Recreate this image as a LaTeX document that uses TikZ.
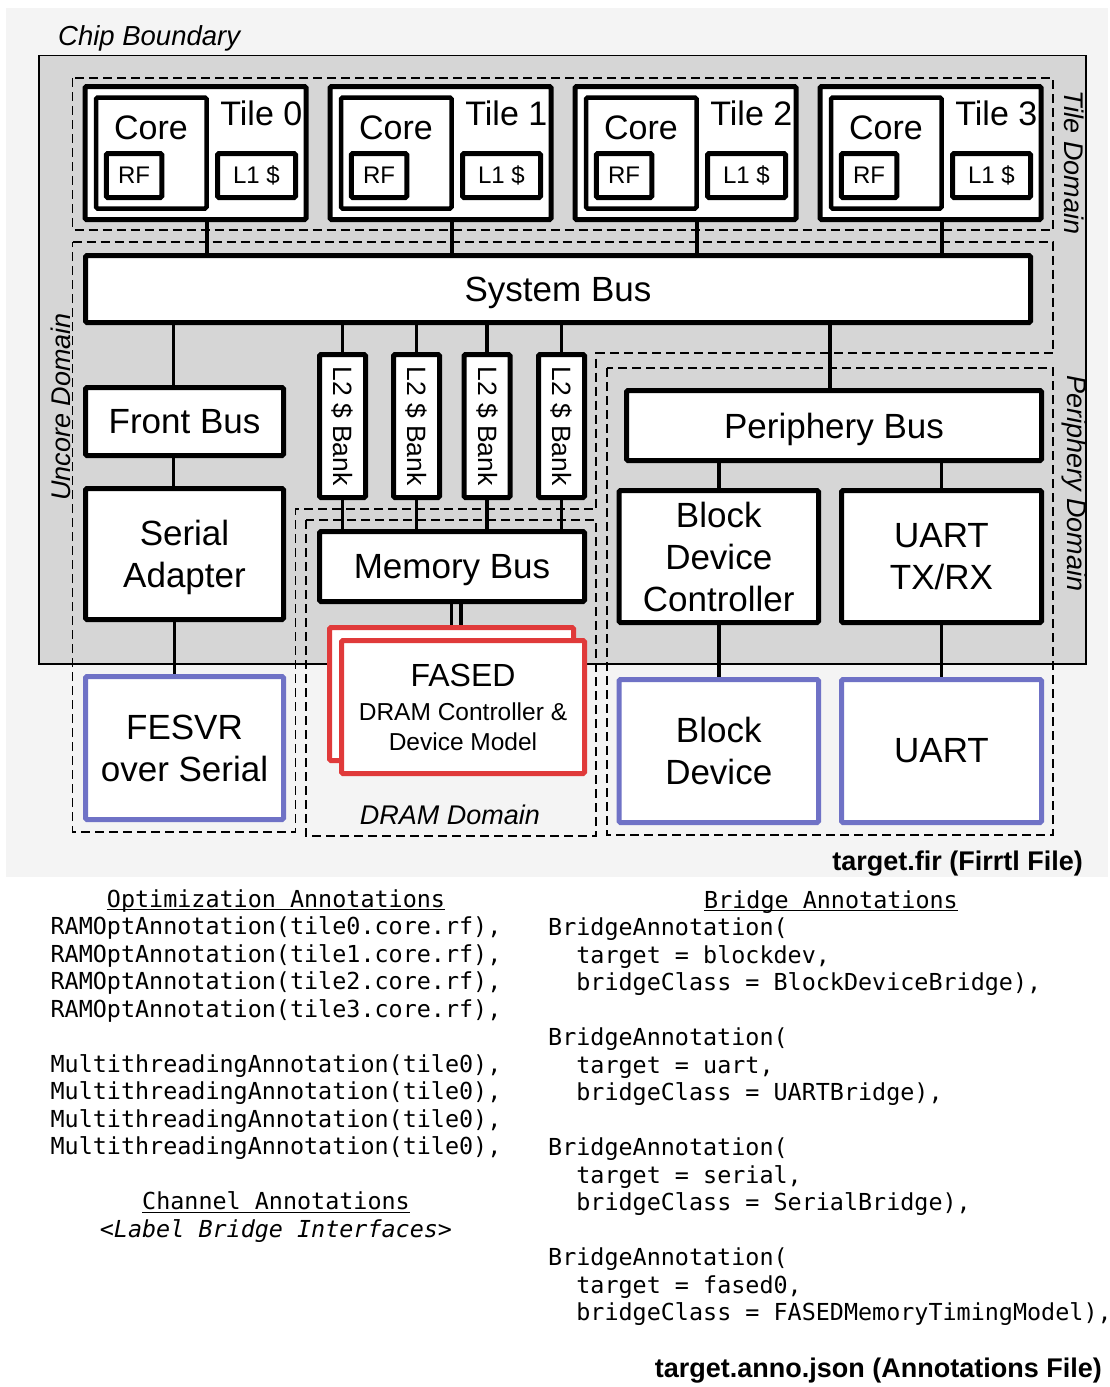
\documentclass[tikz,border=0pt]{standalone}
\usepackage{fontspec}
\setmainfont{Liberation Sans}
\newfontfamily\codefont{DejaVu Sans Mono}
\usetikzlibrary{calc}
\definecolor{pagebg}{HTML}{F4F4F4}
\definecolor{chipfill}{HTML}{D6D6D6}
\definecolor{bridgeblue}{HTML}{6F72C6}
\definecolor{fasedred}{HTML}{E03A3A}
\newcommand\fsz[2]{\fontsize{#1}{#2}\selectfont}
% heading with a flat underline crossing the descenders
\newcommand\ulhead[1]{\setbox0\hbox{#1}\rlap{\rule[-3.4pt]{\wd0}{1.4pt}}\box0}
\newcommand\ind{\phantom{xx}}
\pgfdeclarelayer{back}
\pgfdeclarelayer{wires}
\pgfsetlayers{back,wires,main}

\begin{document}
\begin{tikzpicture}[x=1pt,y=-1pt,
  blk/.style={draw=black, line width=5pt, fill=white, rounded corners=1.5pt,
    inner sep=0pt, align=center, font=\fsz{35}{42}},
  flat/.style={text depth=0pt},
  small/.style={font=\fsz{24}{28}},
  bridge/.style={blk, draw=bridgeblue},
  fased/.style={blk, draw=fasedred, font=\fsz{24.5}{30}},
  wire/.style={line width=3.5pt},
  domainline/.style={line width=1.6pt, dash pattern=on 9pt off 5pt},
  dlbl/.style={inner sep=0pt, font=\itshape\fsz{27}{32}},
  lbl/.style={inner sep=0pt, font=\fsz{34}{40}},
  caption/.style={inner sep=0pt, font=\bfseries\fsz{27}{32}},
  code/.style={inner sep=0pt, font=\codefont\fsz{23.4}{27.5}}
]
\useasboundingbox (0,0) rectangle (1110,1387);

% ---------- tiles ----------
\foreach \k in {0,1,2,3}{
  \pgfmathsetmacro\cx{195.5+245*\k}
  \node[blk, minimum width=221pt, minimum height=133pt] (tile\k) at (\cx,153) {};
  \node[blk, line width=4.5pt, minimum width=110.5pt, minimum height=111pt] (core\k) at (\cx-44.2,153) {};
  \node[blk, small, minimum width=55.5pt, minimum height=44pt] (rf\k) at (\cx-61.5,175.5) {RF};
  \node[blk, small, minimum width=78pt, minimum height=44pt] (lone\k) at (\cx+61,175.5) {L1 \$};
  \node[lbl, anchor=base] (corelbl\k) at (\cx-44.5,139) {Core};
  \node[lbl, anchor=base east] (tilelbl\k) at (\cx+107,125) {Tile \k};
}

% ---------- uncore ----------
\node[blk, flat, minimum width=945pt, minimum height=67pt] (sysbus) at (558,289) {System Bus};
\node[blk, minimum width=198pt, minimum height=68pt] (frontbus) at (184.5,421.5) {Front Bus};
\node[blk, minimum width=198pt, minimum height=131pt] (serial) at (184.5,554) {Serial\\\smash{Adapter}};
\foreach \x [count=\i] in {342.5,416.5,487,561.5}{
  \node[blk, rotate=-90, minimum width=143pt, minimum height=46pt, font=\fsz{26.5}{30}] (bank\i) at (\x,426) {L2 \$ Bank};
}
\node[blk, flat, minimum width=265pt, minimum height=70pt] (membus) at (452,566.5) {Memory Bus};

% ---------- periphery ----------
\node[blk, flat, minimum width=415pt, minimum height=70pt] (pbus) at (834,425.5) {Periphery Bus};
\node[blk, minimum width=199.5pt, minimum height=132pt] (bdc) at (718.75,556.5) {Block\\Device\\Controller};
\node[blk, minimum width=200pt, minimum height=132pt] (uarttx) at (941.5,556.5) {UART\\TX/RX};

% ---------- off-chip models ----------
\node[bridge, minimum width=198pt, minimum height=143pt] (fesvr) at (184.5,748) {FESVR\\over Serial};
\node[fased, minimum width=244pt, minimum height=133pt] (fasedB) at (451.5,694) {};
\node[fased, minimum width=243pt, minimum height=133pt] (fasedF) at (463,707)
  {{\fsz{32}{33}FASED}\\[4pt]DRAM Controller \&\\Device Model};
\node[bridge, minimum width=199.5pt, minimum height=143pt] (blkdev) at (718.75,751) {Block\\Device};
\node[bridge, minimum width=200pt, minimum height=143pt] (uart) at (941.5,751) {UART};

% ---------- connections ----------
\begin{pgfonlayer}{wires}
  \foreach \k in {0,1,2,3}{
    \draw[wire] ([xshift=11.5pt]tile\k.south) -- ([xshift=11.5pt]tile\k.south |- sysbus.north);
  }
  \draw[wire] ([xshift=-11pt]frontbus.north) -- ([xshift=-11pt]frontbus.north |- sysbus.south);
  \draw[wire] ([xshift=-11pt]frontbus.south) -- ([xshift=-11pt]serial.north);
  \draw[wire] ([xshift=-10pt]serial.south) -- ([xshift=-10pt]fesvr.north);
  \foreach \i in {1,2,3,4}{
    \draw[wire] (bank\i.west) -- (bank\i.west |- sysbus.south);
    \draw[wire] (bank\i.east) -- (bank\i.east |- membus.north);
  }
  \draw[wire] (fasedB.north) -- (fasedB.north |- membus.south);
  \draw[wire] ([xshift=-2pt]fasedF.north) -- ([xshift=-2pt]fasedF.north |- membus.south);
  \draw[wire] ([xshift=-4pt]pbus.north) -- ([xshift=-4pt]pbus.north |- sysbus.south);
  \draw[wire] (bdc.north) -- (bdc.north |- pbus.south);
  \draw[wire] (uarttx.north) -- (uarttx.north |- pbus.south);
  \draw[wire] (bdc.south) -- (blkdev.north);
  \draw[wire] (uarttx.south) -- (uart.north);
\end{pgfonlayer}

% ---------- chip outline and clock/power domains ----------
\begin{pgfonlayer}{back}
  \fill[pagebg] (6,8) rectangle (1108,877);
  \draw[fill=chipfill, line width=1.5pt] (39,55.5) rectangle (1086,664);
  \draw[domainline] (72.5,78) rectangle (1053,230);
  \draw[domainline] (72.5,242) -- (1053,242) -- (1053,353) -- (596,353) -- (596,509)
    -- (295.5,509) -- (295.5,832) -- (72.5,832) -- cycle;
  \draw[domainline] (306,520) rectangle (596,836);
  \draw[domainline] (607,368) rectangle (1053,835);
\end{pgfonlayer}

\node[dlbl, font=\itshape\fsz{27.5}{32}, anchor=base west] (chiplbl) at (58,45) {Chip Boundary};
\node[dlbl, rotate=-90, anchor=base] (tiledom) at (1064,162.5) {Tile Domain};
\node[dlbl, rotate=90, anchor=base] (uncoredom) at (70.5,407) {Uncore Domain};
\node[dlbl, rotate=-90, anchor=base] (periphdom) at (1067,483.5) {Periphery Domain};
\node[dlbl, anchor=base] (dramdom) at (450,824) {DRAM Domain};
\node[caption, anchor=base east] (firfile) at (1083,870) {target.fir (Firrtl File)};

% ---------- annotation listings ----------
\node[code, align=center, anchor=base] (optnotes) at (276,1237) {%
  \ulhead{Optimization Annotations}\\
  RAMOptAnnotation(tile0.core.rf),\\
  RAMOptAnnotation(tile1.core.rf),\\
  RAMOptAnnotation(tile2.core.rf),\\
  RAMOptAnnotation(tile3.core.rf),\\[27.5pt]
  MultithreadingAnnotation(tile0),\\
  MultithreadingAnnotation(tile0),\\
  MultithreadingAnnotation(tile0),\\
  MultithreadingAnnotation(tile0),\\[27.5pt]
  \ulhead{Channel Annotations}\\
  {\itshape <Label Bridge Interfaces>}};

\node[code, anchor=base] (bridgehead) at (831,908) {\ulhead{Bridge Annotations}};
\node[code, align=left, anchor=base west] (bridgenotes) at (548,1320.5) {%
  BridgeAnnotation(\\
  \ind target = blockdev,\\
  \ind bridgeClass = BlockDeviceBridge),\\[27.5pt]
  BridgeAnnotation(\\
  \ind target = uart,\\
  \ind bridgeClass = UARTBridge),\\[27.5pt]
  BridgeAnnotation(\\
  \ind target = serial,\\
  \ind bridgeClass = SerialBridge),\\[27.5pt]
  BridgeAnnotation(\\
  \ind target = fased0,\\
  \ind bridgeClass = FASEDMemoryTimingModel),};

\node[caption, anchor=base east] (annofile) at (1102,1377) {target.anno.json (Annotations File)};
\end{tikzpicture}
\end{document}
